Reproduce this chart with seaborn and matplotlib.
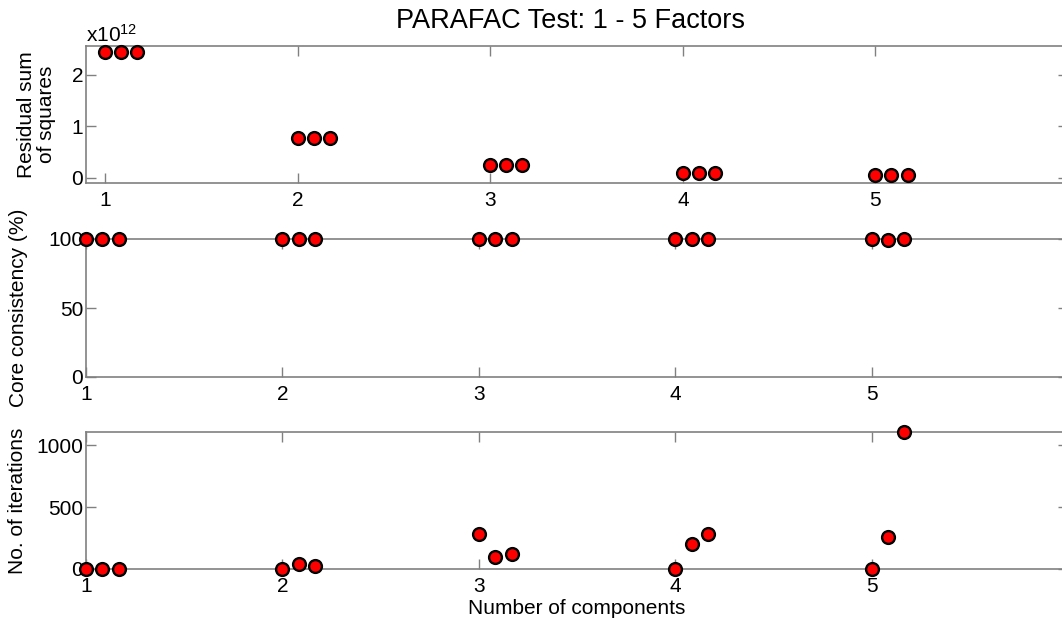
import numpy as np
import pandas as pd
import matplotlib
matplotlib.use("Agg")
import matplotlib.pyplot as plt
from matplotlib.ticker import FuncFormatter
import seaborn as sns

# Number of PARAFAC components tested, three replicate fits each
components = [1, 1, 1, 2, 2, 2, 3, 3, 3, 4, 4, 4, 5, 5, 5]
replicate_offset = [0.0, 1 / 12, 2 / 12] * 5

# Residual sum of squares per fit
residual_ss = [2.45e12, 2.45e12, 2.45e12,
               0.77e12, 0.77e12, 0.77e12,
               0.24e12, 0.24e12, 0.24e12,
               0.09e12, 0.09e12, 0.09e12,
               0.06e12, 0.06e12, 0.06e12]

# Core consistency diagnostic (%)
core_consistency = [100, 100, 100,
                    100, 100, 100,
                    100, 100, 100,
                    100, 100, 100,
                    100, 99, 100]

# Iterations needed to converge
iterations = [3, 3, 3,
              2, 40, 27,
              285, 96, 117,
              2, 202, 280,
              2, 258, 1105]

df = pd.DataFrame({
    "pos": np.array(components) + np.array(replicate_offset),
    "rss": residual_ss,
    "core": core_consistency,
    "iter": iterations,
})

sns.set_theme(style="white")
plt.rcParams["font.family"] = ["Liberation Sans", "DejaVu Sans"]
plt.rcParams["mathtext.fontset"] = "custom"
plt.rcParams["mathtext.rm"] = "Liberation Sans"
plt.rcParams["mathtext.it"] = "Liberation Sans"
plt.rcParams["text.color"] = "black"
plt.rcParams["axes.labelcolor"] = "black"

FS = 15

W, H = 1062, 624
fig = plt.figure(figsize=(W / 100, H / 100), dpi=100)

left = 86 / W
width = (1068 - 86) / W


def make_axes(top_px, bottom_px):
    return fig.add_axes([left, 1 - bottom_px / H, width, (bottom_px - top_px) / H])


ax1 = make_axes(46, 183)
ax2 = make_axes(239, 377)
ax3 = make_axes(432, 569)

spine_color = "#808080"
marker_kw = dict(s=85, color="#ff0000", edgecolor="black", linewidth=1.7,
                 clip_on=False, zorder=5, legend=False)

sns.scatterplot(data=df, x="pos", y="rss", ax=ax1, **marker_kw)
sns.scatterplot(data=df, x="pos", y="core", ax=ax2, **marker_kw)
sns.scatterplot(data=df, x="pos", y="iter", ax=ax3, **marker_kw)

ax1.set_xlim(0.9, 6.0)
ax1.set_ylim(-0.1e12, 2.56e12)
ax1.set_yticks([0, 1e12, 2e12])
ax1.yaxis.set_major_formatter(FuncFormatter(lambda v, p: f"{v / 1e12:g}"))
ax1.text(0.0, 1.0, "x10$^{12}$", transform=ax1.transAxes, ha="left",
         va="bottom", fontsize=FS)

ax2.set_xlim(1.0, 6.0)
ax2.set_ylim(0, 100)
ax2.set_yticks([0, 50, 100])

ax3.set_xlim(1.0, 6.0)
ax3.set_ylim(0, 1105)
ax3.set_yticks([0, 500, 1000])

for ax in (ax1, ax2, ax3):
    ax.set_xticks([1, 2, 3, 4, 5])
    ax.set_xlabel("")
    ax.set_ylabel("")
    for sp in ax.spines.values():
        sp.set_visible(True)
        sp.set_color(spine_color)
        sp.set_linewidth(1.2)
    ax.tick_params(axis="both", which="both", direction="in", length=7,
                   width=1.0, color=spine_color, labelsize=FS,
                   labelcolor="black", top=True, right=True,
                   bottom=True, left=True)
    ax.tick_params(axis="y", pad=2)
    ax.tick_params(axis="x", pad=6)

ax1.set_ylabel("Residual sum\nof squares", fontsize=FS, linespacing=1.05)
ax1.yaxis.set_label_coords(-0.031, 0.5)
ax2.set_ylabel("Core consistency (%)", fontsize=FS)
ax2.yaxis.set_label_coords(-0.059, 0.5)
ax3.set_ylabel("No. of iterations", fontsize=FS)
ax3.yaxis.set_label_coords(-0.060, 0.5)

ax3.set_xlabel("Number of components", fontsize=FS, labelpad=2)

fig.text(570 / W, 1 - 21 / H, "PARAFAC Test: 1 - 5 Factors", ha="center",
         va="center", fontsize=19.5)

fig.savefig("out.png", dpi=100)
